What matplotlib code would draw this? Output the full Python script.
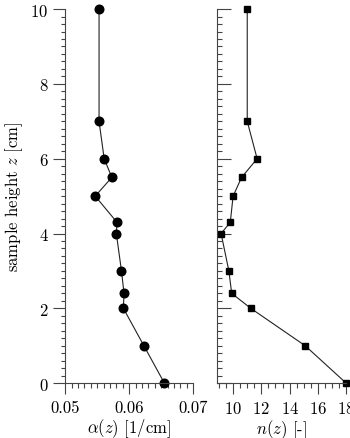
import matplotlib
matplotlib.use('Agg')
import matplotlib.pyplot as plt
from matplotlib.ticker import MultipleLocator

plt.rcParams['font.family'] = 'serif'
plt.rcParams['font.serif'] = ['cmr10', 'DejaVu Serif']
plt.rcParams['mathtext.fontset'] = 'cm'
plt.rcParams['axes.formatter.use_mathtext'] = True
plt.rcParams['font.size'] = 12

z = [10, 7, 6, 5.5, 5, 4.3, 4, 3, 2.4, 2, 1, 0]
alpha = [0.0553, 0.0553, 0.0561, 0.0573, 0.0547, 0.0581, 0.0580, 0.0588, 0.0592, 0.0591, 0.0623, 0.0655]
n = [11.0, 11.0, 11.7, 10.6, 10.0, 9.8, 9.15, 9.7, 9.9, 11.25, 15.1, 18.0]

fig = plt.figure(figsize=(3.5, 4.39), dpi=100)
ax1 = fig.add_axes([0.186, 0.125, 0.366, 0.852])
ax2 = fig.add_axes([0.62, 0.125, 0.369, 0.852])

ax1.plot(alpha, z, color='#222222', lw=0.8, marker='o', ms=6.2,
         mfc='black', mec='black', clip_on=False)
ax2.plot(n, z, color='#222222', lw=0.8, marker='s', ms=4.5,
         mfc='black', mec='black', clip_on=False)

for ax in (ax1, ax2):
    ax.spines['top'].set_visible(False)
    ax.spines['right'].set_visible(False)
    ax.spines['left'].set_color('#444444')
    ax.spines['bottom'].set_color('#444444')
    ax.set_ylim(0, 10)
    ax.yaxis.set_major_locator(MultipleLocator(2))
    ax.yaxis.set_minor_locator(MultipleLocator(0.2))
    ax.tick_params(which='both', color='#444444', width=0.8)
    ax.tick_params(axis='x', which='major', direction='out', length=8, pad=4)
    ax.tick_params(axis='x', which='minor', direction='out', length=3.5)
    ax.xaxis.labelpad = 1

ax1.set_xlim(0.05, 0.07)
ax1.set_xticks([0.05, 0.06, 0.07])
ax1.set_xticklabels(['0.05', '0.06', '0.07'])
ax1.xaxis.set_minor_locator(MultipleLocator(0.001))
ax1.tick_params(axis='y', which='major', direction='out', length=8.5)
ax1.tick_params(axis='y', which='minor', direction='out', length=3)
ax1.set_xlabel(r'$\alpha(z)$ [1/cm]')
ax1.set_ylabel(r'sample height $z$ [cm]', labelpad=4)

ax2.set_xlim(8.86, 18)
ax2.set_xticks([10, 12, 14, 16, 18])
ax2.xaxis.set_minor_locator(MultipleLocator(0.5))
ax2.tick_params(axis='y', which='major', direction='in', length=10, labelleft=False)
ax2.tick_params(axis='y', which='minor', direction='in', length=3.5)
ax2.set_xlabel(r'$n(z)$ [-]')

fig.savefig('out.png', dpi=100)
